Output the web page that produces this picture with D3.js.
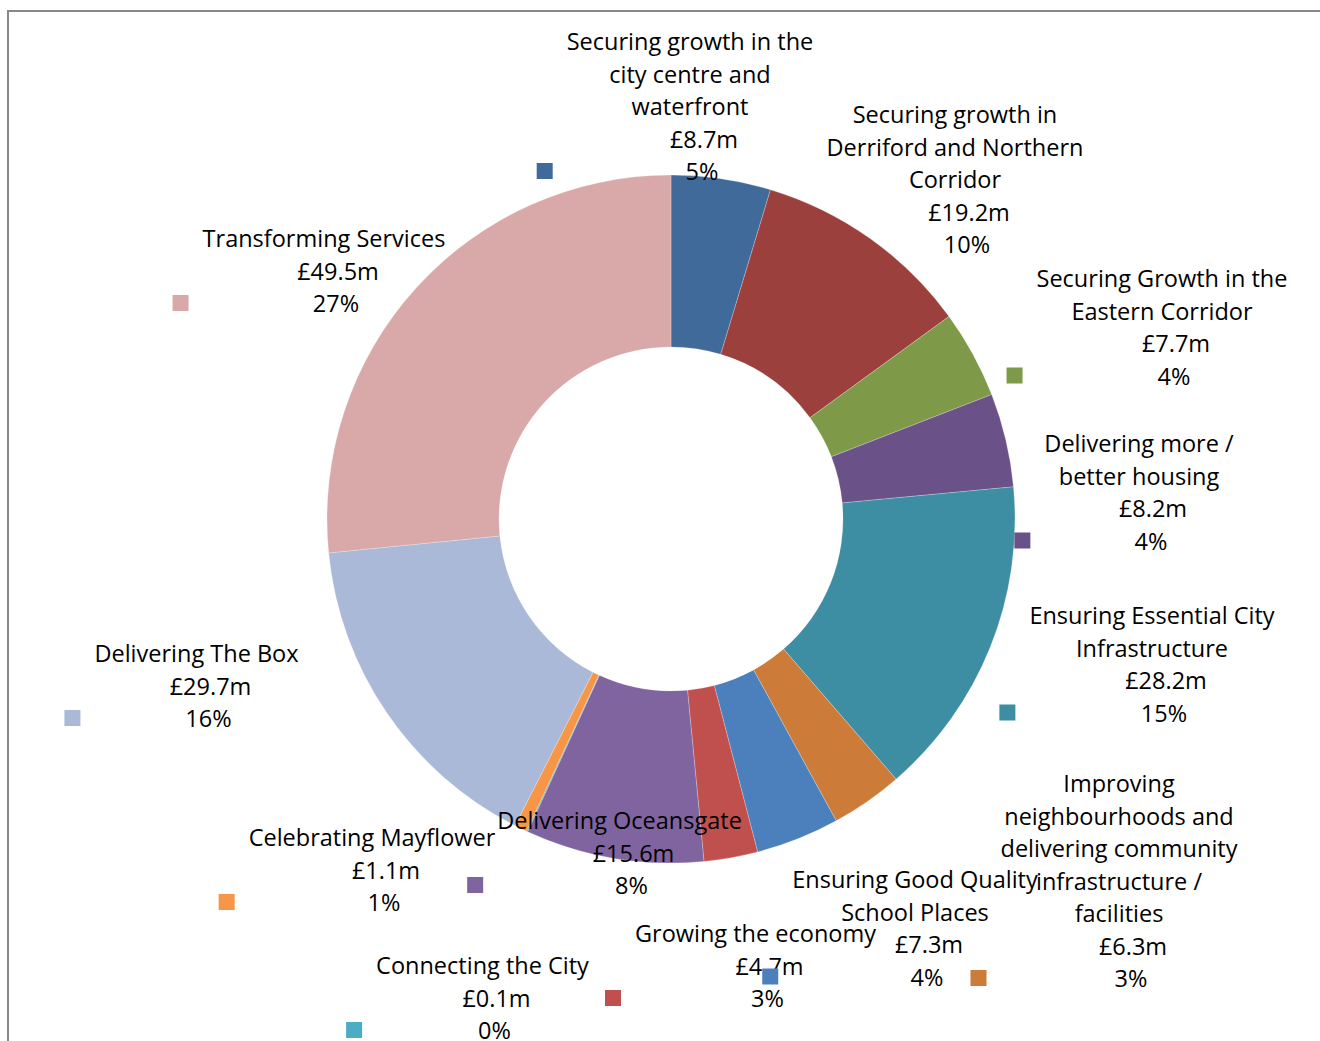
<!DOCTYPE html>
<html><head><meta charset="utf-8">
<script src="https://cdn.jsdelivr.net/npm/d3@7/dist/d3.min.js"></script>
<style>html,body{margin:0;padding:0;background:#fff;overflow:hidden}</style>
</head><body>
<svg id="c" width="1320" height="1041"></svg>
<script>
// ---- data ----
const categories = [
  "Securing growth in the city centre and waterfront",
  "Securing growth in Derriford and Northern Corridor",
  "Securing Growth in the Eastern Corridor",
  "Delivering more / better housing",
  "Ensuring Essential City Infrastructure",
  "Improving neighbourhoods and delivering community infrastructure / facilities",
  "Ensuring Good Quality School Places",
  "Growing the economy",
  "Delivering Oceansgate",
  "Connecting the City",
  "Celebrating Mayflower",
  "Delivering The Box",
  "Transforming Services"
];
const values = [8.7, 19.2, 7.7, 8.2, 28.2, 6.3, 7.3, 4.7, 15.6, 0.1, 1.1, 29.7, 49.5];
const valueLabels = ["£8.7m","£19.2m","£7.7m","£8.2m","£28.2m","£6.3m","£7.3m","£4.7m","£15.6m","£0.1m","£1.1m","£29.7m","£49.5m"];
const percentLabels = ["5%","10%","4%","4%","15%","3%","4%","3%","8%","0%","1%","16%","27%"];
const nameLines = [
  ["Securing growth in the","city centre and","waterfront"],
  ["Securing growth in","Derriford and Northern","Corridor"],
  ["Securing Growth in the","Eastern Corridor"],
  ["Delivering more /","better housing"],
  ["Ensuring Essential City","Infrastructure"],
  ["Improving","neighbourhoods and","delivering community","infrastructure /","facilities"],
  ["Ensuring Good Quality","School Places"],
  ["Growing the economy"],
  ["Delivering Oceansgate"],
  ["Connecting the City"],
  ["Celebrating Mayflower"],
  ["Delivering The Box"],
  ["Transforming Services"]
];
const showKey = [true,false,true,true,true,true,true,true,true,true,true,true,true];
const colors = ["#3F6A9A","#9C403D","#7E9A48","#6A5187","#3D8DA3","#CC7B38","#4C80BC","#C0504D","#8064A0","#4BACC6","#F79646","#AAB9D7","#D9A9A9"];

// ---- layout (label block centre x, first line centre y) ----
const labelPos = [
  [690,41],[955,114],[1162,278],[1139,443],[1152,615],[1119,783],[915,879],
  [755.5,933],[619.5,820],[482.5,965],[372,837],[196.5,653],[324,238]
];
const lineH = 32.5;

const svg = d3.select("#c");
svg.append("rect").attr("x",8).attr("y",11).attr("width",1400).attr("height",1100)
  .attr("fill","none").attr("stroke","#888").attr("stroke-width",2);

const cx = 671, cy = 519, rOut = 344, rIn = 172;
const pie = d3.pie().sort(null).value(d => d)(values);
const arc = d3.arc().innerRadius(rIn).outerRadius(rOut);
const g = svg.append("g").attr("transform",`translate(${cx},${cy})`);
g.selectAll("path").data(pie).join("path")
  .attr("d",arc).attr("fill",(d,i)=>colors[i])
  .attr("stroke","#fff").attr("stroke-width",0.4).attr("stroke-opacity",0.6);

const font = "'Open Sans', sans-serif";
const lab = svg.append("g").attr("font-family",font).attr("font-size",23.5).attr("fill","#000");
categories.forEach((c,i)=>{
  const [x,y0] = labelPos[i];
  const lines = nameLines[i].map(t=>({t,dx:0}))
    .concat([{t:valueLabels[i],dx:14},{t:percentLabels[i],dx:12}]);
  let minLeft = Infinity;
  lines.forEach((l,k)=>{
    const t = lab.append("text").attr("x",x+l.dx).attr("y",y0+k*lineH)
      .attr("text-anchor","middle").attr("dominant-baseline","central").text(l.t);
    const w = t.node().getComputedTextLength();
    minLeft = Math.min(minLeft, x+l.dx-w/2);
  });
  if(showKey[i]){
    const yl = y0+(lines.length-1)*lineH;
    svg.append("rect").attr("x",minLeft-30).attr("y",yl-8).attr("width",16).attr("height",16)
      .attr("fill",colors[i]);
  }
});
</script>
</body></html>
